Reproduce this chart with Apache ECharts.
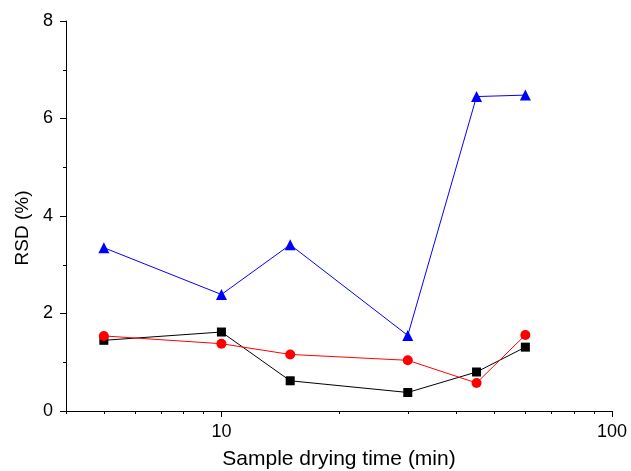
<!DOCTYPE html>
<html>
<head>
<meta charset="utf-8">
<script src="https://cdn.jsdelivr.net/npm/echarts@6/dist/echarts.min.js"></script>
<style>
  html, body { margin: 0; padding: 0; background: #fff; }
  #chart { width: 631px; height: 471px; }
</style>
</head>
<body>
<div id="chart"></div>
<script>
// drying time (min) on the log axis
const dryingTimes = [5, 10, 15, 30, 45, 60];
const squareRsd = [1.45, 1.62, 0.62, 0.38, 0.80, 1.31];
const circleRsd = [1.54, 1.38, 1.16, 1.04, 0.575, 1.56];
const triangleRsd = [3.35, 2.39, 3.41, 1.55, 6.45, 6.48];

const majorTicks = [10, 100];
const minorTicks = [4, 5, 6, 7, 8, 9, 20, 30, 40, 50, 60, 70, 80, 90];

const font = 'Liberation Sans, Arial, Helvetica, sans-serif';

function pairs(ys) {
  return dryingTimes.map((t, i) => [t, ys[i]]);
}

const chart = echarts.init(document.getElementById('chart'));

const option = {
  animation: false,
  grid: { left: 66, right: 19, top: 21, bottom: 60, outerBoundsMode: 'none' },
  xAxis: [
    {
      type: 'log',
      min: 4,
      max: 100,
      name: 'Sample drying time (min)',
      nameLocation: 'middle',
      nameGap: 38,
      nameTextStyle: { fontFamily: font, fontSize: 21, color: '#000' },
      axisLine: { lineStyle: { color: '#000', width: 1 } },
      axisTick: { inside: false, length: 6, customValues: majorTicks, lineStyle: { color: '#000' } },
      axisLabel: { customValues: majorTicks, margin: 12, fontFamily: font, fontSize: 18, color: '#000' },
      splitLine: { show: false }
    },
    {
      type: 'log',
      min: 4,
      max: 100,
      position: 'bottom',
      axisLine: { show: false },
      axisTick: { inside: false, length: 3, customValues: minorTicks, lineStyle: { color: '#000' } },
      axisLabel: { show: false },
      splitLine: { show: false }
    }
  ],
  yAxis: {
    type: 'value',
    min: 0,
    max: 8,
    interval: 2,
    name: 'RSD (%)',
    nameLocation: 'middle',
    nameGap: 33,
    nameTextStyle: { fontFamily: font, fontSize: 19, color: '#000', padding: [0, 24, 0, 0] },
    axisLine: { show: true, lineStyle: { color: '#000', width: 1 } },
    axisTick: { show: true, inside: false, length: 6, lineStyle: { color: '#000' } },
    minorTick: { show: true, splitNumber: 2, length: 3, lineStyle: { color: '#000' } },
    axisLabel: { margin: 13, fontFamily: font, fontSize: 18, color: '#000' },
    splitLine: { show: false }
  },
  series: [
    {
      name: 'square',
      type: 'line',
      data: pairs(squareRsd),
      symbol: 'rect',
      symbolSize: 9,
      color: '#000',
      lineStyle: { color: '#000', width: 1 },
      itemStyle: { color: '#000' }
    },
    {
      name: 'circle',
      type: 'line',
      data: pairs(circleRsd),
      symbol: 'circle',
      symbolSize: 10,
      color: '#ff0000',
      lineStyle: { color: '#ff0000', width: 1 },
      itemStyle: { color: '#ff0000' }
    },
    {
      name: 'triangle',
      type: 'line',
      data: pairs(triangleRsd),
      symbol: 'triangle',
      symbolSize: 11,
      color: '#0000ff',
      lineStyle: { color: '#0000ff', width: 1 },
      itemStyle: { color: '#0000ff' }
    }
  ]
};

chart.setOption(option);
</script>
</body>
</html>
